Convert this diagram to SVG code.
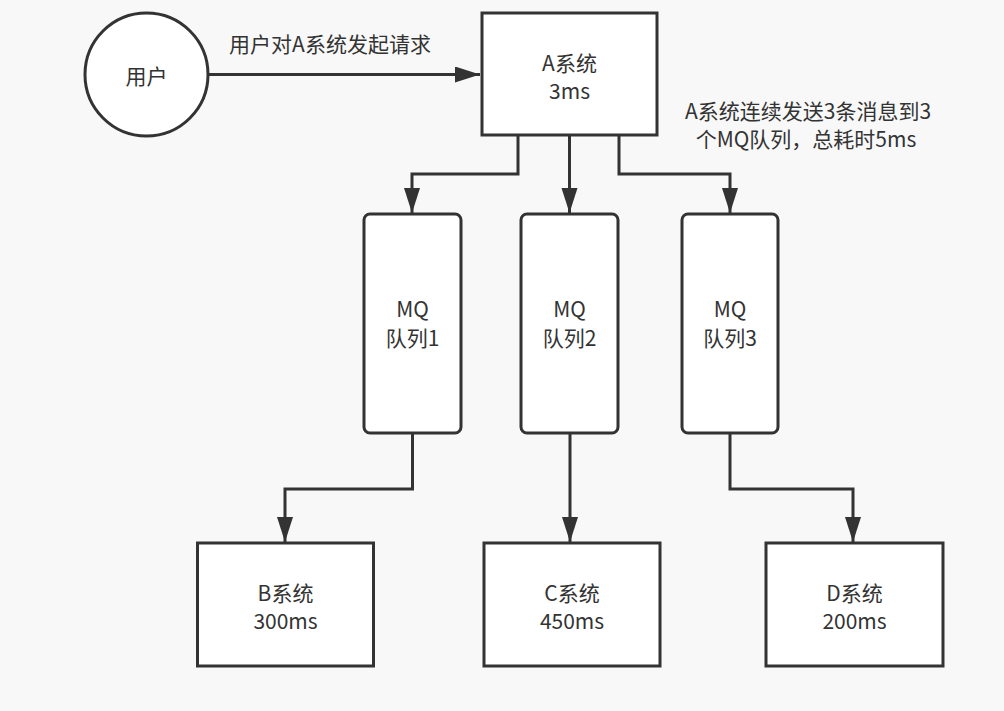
<svg xmlns="http://www.w3.org/2000/svg" width="1004" height="711" viewBox="0 0 1004 711">
<style>
.box{fill:#ffffff;stroke:#333333;stroke-width:3}
.t{font-family:"Noto Sans CJK SC","Microsoft YaHei",sans-serif;font-size:21px;fill:#333333;text-anchor:middle;dominant-baseline:central}
.c{fill:none;stroke:#333333;stroke-width:3}
</style>
<defs>
<marker id="ah" markerUnits="userSpaceOnUse" markerWidth="27" markerHeight="18" refX="25" refY="8" orient="auto">
<path d="M0,0 L25,8 L0,16 Z" fill="#333333"/>
</marker>
</defs>
<rect width="1004" height="711" fill="#f8f8f8"/>
<g id="connectors">
<path class="c" d="M208,74.5 H480" marker-end="url(#ah)"/>
<path class="c" d="M518,135 V174 H412 V213" marker-end="url(#ah)"/>
<path class="c" d="M569.5,135 V213" marker-end="url(#ah)"/>
<path class="c" d="M619,135 V174 H730 V213" marker-end="url(#ah)"/>
<path class="c" d="M412.5,433 V489 H285 V542" marker-end="url(#ah)"/>
<path class="c" d="M570,433 V542" marker-end="url(#ah)"/>
<path class="c" d="M730,433 V489 H853 V542" marker-end="url(#ah)"/>
<text class="t" x="330" y="43">用户对A系统发起请求</text>
<text class="t" x="808" y="110">A系统连续发送3条消息到3</text>
<text class="t" x="806" y="138">个MQ队列，总耗时5ms</text>
</g>
<g id="user">
<circle class="box" cx="146.5" cy="74.5" r="61.5"/>
<text class="t" x="146.5" y="75">用户</text>
</g>
<g id="sysA">
<rect class="box" x="482" y="13" width="175" height="122"/>
<text class="t" x="569.5" y="62">A系统</text>
<text class="t" x="569.5" y="90">3ms</text>
</g>
<g id="mq1">
<rect class="box" x="364" y="214" width="97" height="219" rx="6"/>
<text class="t" x="412.5" y="308">MQ</text>
<text class="t" x="412.5" y="337">队列1</text>
</g>
<g id="mq2">
<rect class="box" x="521" y="214" width="97" height="219" rx="6"/>
<text class="t" x="569.5" y="308">MQ</text>
<text class="t" x="569.5" y="337">队列2</text>
</g>
<g id="mq3">
<rect class="box" x="682" y="214" width="96" height="219" rx="6"/>
<text class="t" x="730" y="308">MQ</text>
<text class="t" x="730" y="337">队列3</text>
</g>
<g id="sysB">
<rect class="box" x="197.5" y="543" width="176" height="123"/>
<text class="t" x="285.5" y="592">B系统</text>
<text class="t" x="285.5" y="620">300ms</text>
</g>
<g id="sysC">
<rect class="box" x="484" y="543" width="176" height="123"/>
<text class="t" x="572" y="592">C系统</text>
<text class="t" x="572" y="620">450ms</text>
</g>
<g id="sysD">
<rect class="box" x="766" y="543" width="177" height="123"/>
<text class="t" x="854.5" y="592">D系统</text>
<text class="t" x="854.5" y="620">200ms</text>
</g>
</svg>
